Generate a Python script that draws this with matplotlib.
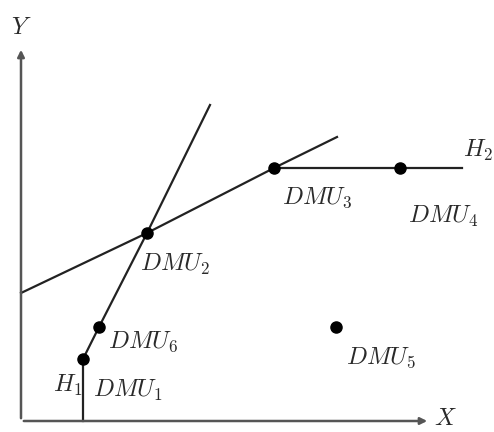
import numpy as np
import matplotlib
matplotlib.use("Agg")
import matplotlib.pyplot as plt

plt.rcParams['mathtext.fontset'] = 'cm'

# DMU positions (input X, output Y)
dmu_names = ['DMU_1', 'DMU_2', 'DMU_3', 'DMU_4', 'DMU_5', 'DMU_6']
dmu_x = [62, 126, 253, 379, 315, 78]
dmu_y = [62, 188, 253, 253, 94, 94]

# frontier segments
h1_x = [62, 62, 78, 126, 189]
h1_y = [0, 62, 94, 188, 316]
cross_x = [0, 126, 253, 316]
cross_y = [128, 188, 253, 284]
h2_x = [253, 379, 441]
h2_y = [253, 253, 253]

# label centres
label_pos = {
    'DMU_1': (107, 31), 'DMU_2': (154, 157), 'DMU_3': (296, 223),
    'DMU_4': (422, 205), 'DMU_5': (360, 63), 'DMU_6': (122, 79),
}

fig = plt.figure(figsize=(4.94, 4.32), dpi=100)
ax = fig.add_axes([0, 0, 1, 1])
ax.set_xlim(-21, 473)
ax.set_ylim(-11, 421)
ax.axis('off')

# axes with arrows
ax.annotate('', xy=(409, 0), xytext=(0, 0),
            arrowprops=dict(arrowstyle='-|>', color='#555555', lw=1.8, mutation_scale=10))
ax.annotate('', xy=(0, 374), xytext=(0, 0),
            arrowprops=dict(arrowstyle='-|>', color='#555555', lw=1.8, mutation_scale=10))

ax.plot(h1_x, h1_y, color='#222222', lw=1.6)
ax.plot(cross_x, cross_y, color='#222222', lw=1.6)
ax.plot(h2_x, h2_y, color='#222222', lw=1.6)
ax.plot(dmu_x, dmu_y, 'o', color='black', ms=8, ls='none')

txt = dict(fontsize=17.5, color='#2a2a2a', ha='center', va='center')
for name in dmu_names:
    lx, ly = label_pos[name]
    ax.text(lx, ly, '$' + name + '$', **txt)
ax.text(47, 36, '$H_1$', **txt)
ax.text(457, 271, '$H_2$', **txt)
ax.text(0, 394, '$Y$', **txt)
ax.text(424, 3, '$X$', **txt)

fig.savefig('out.png', dpi=100)
